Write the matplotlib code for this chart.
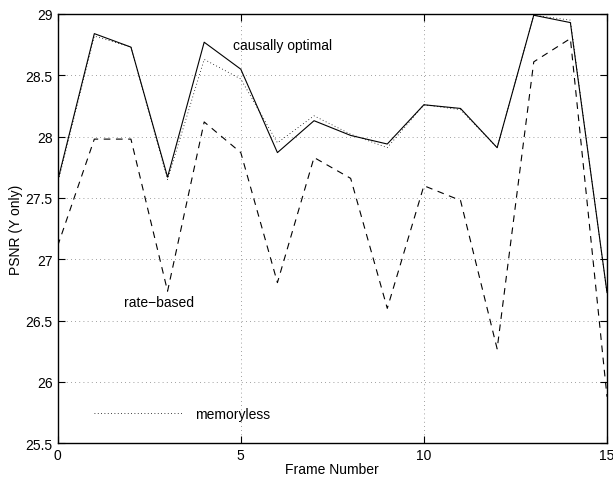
import numpy as np
import matplotlib.pyplot as plt

plt.rcParams['font.family'] = ['Liberation Sans', 'DejaVu Sans']

frames = np.arange(16)
causal = [27.64, 28.84, 28.73, 27.67, 28.77, 28.55, 27.87, 28.13,
          28.01, 27.94, 28.26, 28.23, 27.91, 28.99, 28.93, 26.73]
memoryless = [27.62, 28.82, 28.73, 27.65, 28.63, 28.47, 27.95, 28.17,
              28.02, 27.91, 28.26, 28.22, 27.91, 28.99, 28.95, 26.72]
rate_based = [27.11, 27.98, 27.98, 26.74, 28.12, 27.87, 26.81, 27.83,
              27.66, 26.60, 27.60, 27.48, 26.27, 28.61, 28.80, 25.88]

fig = plt.figure(figsize=(6.13, 4.81), dpi=100)
ax = fig.add_axes([57.7 / 613, 1 - 444.3 / 481, (607 - 57.7) / 613, (444.3 - 15) / 481])

ax.plot(frames, causal, 'k-', lw=0.8)
ax.plot(frames, memoryless, color='k', ls=(0, (1, 3)), lw=0.6)
ax.plot(frames, rate_based, color='k', ls=(0, (6, 5)), lw=0.8)

# legend-like labels placed inside the axes
ax.text(4.79, 28.75, 'causally optimal', fontsize=10, va='center')
ax.text(1.81, 26.65, 'rate\u2212based', fontsize=10, va='center')
ax.plot([1.0, 3.43], [25.745, 25.745], color='k', ls=(0, (1, 3)), lw=0.6)
ax.text(3.75, 25.74, 'memoryless', fontsize=10, va='center')

ax.set_xlim(0, 15)
ax.set_ylim(25.5, 29)
ax.set_xticks([0, 5, 10, 15])
ax.set_yticks([25.5, 26, 26.5, 27, 27.5, 28, 28.5, 29])
ax.set_yticklabels(['25.5', '26', '26.5', '27', '27.5', '28', '28.5', '29'])
ax.tick_params(direction='in', top=True, right=True, labelsize=10, length=5)
ax.grid(True, color='gray', ls=(0, (1, 4)), lw=0.6)
ax.set_xlabel('Frame Number', fontsize=10, labelpad=0)
ax.set_ylabel('PSNR (Y only)', fontsize=10, labelpad=2)
for s in ax.spines.values():
    s.set_linewidth(1.0)

plt.savefig('out.png', dpi=100)
